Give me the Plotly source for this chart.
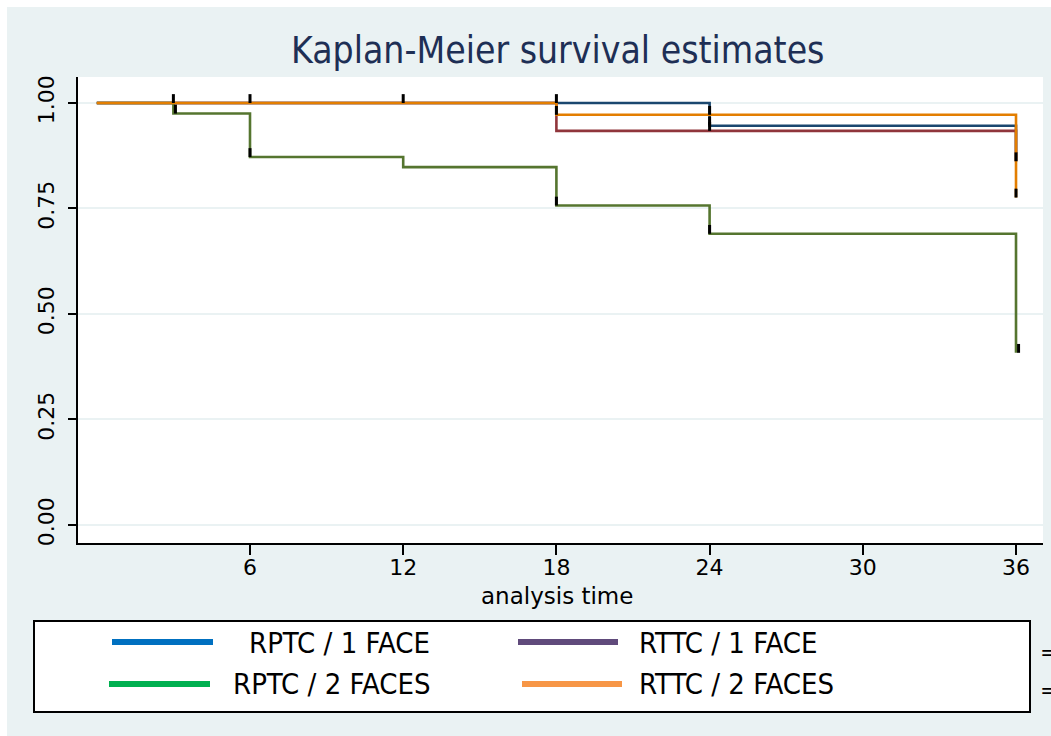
import plotly.graph_objects as go

# ---------------- data ----------------
series_names = ["RPTC / 1 FACE", "RTTC / 1 FACE", "RPTC / 2 FACES", "RTTC / 2 FACES"]
line_colors = ["#1a476f", "#90353b", "#55752f", "#e37e00"]
legend_colors = ["#0070C0", "#604A7B", "#00B050", "#F79646"]

t_rptc1 = [0, 24, 36]
s_rptc1 = [1.0, 0.946, 0.862]
t_rttc1 = [0, 18, 36]
s_rttc1 = [1.0, 0.934, 0.862]
t_rptc2 = [0, 3, 6, 12, 18, 24, 36]
s_rptc2 = [1.0, 0.975, 0.872, 0.848, 0.757, 0.690, 0.408]
t_rttc2 = [0, 18, 36]
s_rttc2 = [1.0, 0.972, 0.776]

# censoring ticks (time, survival level)
cens_t = [3, 3.08, 6, 6, 12, 18, 18, 18, 24, 24, 24, 24, 36, 36, 36.1]
cens_s = [1.0, 0.975, 1.0, 0.872, 1.0, 1.0, 0.972, 0.757, 0.934, 0.947, 0.972, 0.690, 0.862, 0.776, 0.408]

x_ticks = [6, 12, 18, 24, 30, 36]
y_ticks = [0, 0.25, 0.5, 0.75, 1.0]
y_ticktext = ["0.00", "0.25", "0.50", "0.75", "1.00"]

# ---------------- figure ----------------
W, H = 1051, 736
L, R, T, B = 78, 8, 77, 193
PW, PH = W - L - R, H - T - B


def px(x):
    return (x - L) / PW


def py(y):
    return (H - B - y) / PH


fig = go.Figure()
all_t = [t_rptc1, t_rttc1, t_rptc2, t_rttc2]
all_s = [s_rptc1, s_rttc1, s_rptc2, s_rttc2]
for name, col, tt, ss in zip(series_names, line_colors, all_t, all_s):
    fig.add_trace(go.Scatter(x=tt, y=ss, mode="lines", name=name,
                             line=dict(color=col, width=2.6, shape="hv"),
                             showlegend=False, hoverinfo="skip"))

tick_h = 0.021
cx, cy = [], []
for t, s in zip(cens_t, cens_s):
    cx += [t, t, None]
    cy += [s, s + tick_h, None]
fig.add_trace(go.Scatter(x=cx, y=cy, mode="lines", line=dict(color="black", width=3),
                         showlegend=False, hoverinfo="skip"))

bg = "#eaf2f3"
shapes = [
    dict(type="rect", xref="paper", yref="paper", x0=px(0), x1=px(W + 5), y0=py(7), y1=py(-5),
         fillcolor="white", line=dict(width=0), layer="below"),
    dict(type="rect", xref="paper", yref="paper", x0=px(-5), x1=px(7), y0=py(H + 5), y1=py(-5),
         fillcolor="white", line=dict(width=0), layer="below"),
    dict(type="rect", xref="paper", yref="paper", x0=px(34), x1=px(1030), y0=py(712), y1=py(621),
         fillcolor="white", line=dict(color="black", width=2)),
]
leg_lines = [(112, 213, 642), (518, 618, 642), (109, 210, 684), (522, 622, 684)]
leg_text = [(247, 643), (637, 643), (231, 684), (637, 684)]
for (x0, x1, yy), col in zip(leg_lines, legend_colors):
    shapes.append(dict(type="line", xref="paper", yref="paper", x0=px(x0), x1=px(x1),
                       y0=py(yy), y1=py(yy), line=dict(color=col, width=6)))

narrow = "DejaVu Sans Condensed, Liberation Sans Narrow, sans-serif"
annotations = [
    dict(text="Kaplan-Meier survival estimates", xref="paper", yref="paper",
         x=px(557), y=py(50), xanchor="center", yanchor="middle", showarrow=False,
         font=dict(family=narrow, size=37, color="#1e2f55")),
    dict(text="analysis time", xref="paper", yref="paper",
         x=px(557), y=py(596), xanchor="center", yanchor="middle", showarrow=False,
         font=dict(family="DejaVu Sans", size=23, color="black")),
]
for (xx, yy), name in zip(leg_text, series_names):
    annotations.append(dict(text=name, xref="paper", yref="paper", x=px(xx), y=py(yy),
                            xanchor="left", yanchor="middle", showarrow=False,
                            font=dict(family=narrow, size=29, color="black")))
for yy in (652, 690):
    annotations.append(dict(text="=", xref="paper", yref="paper", x=px(1038), y=py(yy),
                            xanchor="left", yanchor="middle", showarrow=False,
                            font=dict(family="DejaVu Sans", size=22, color="black")))

fig.update_layout(
    width=W, height=H,
    margin=dict(l=L, r=R, t=T, b=B, pad=0),
    paper_bgcolor=bg, plot_bgcolor="white",
    shapes=shapes, annotations=annotations,
    showlegend=False,
    xaxis=dict(range=[-0.736, 37.057], tickvals=x_ticks, ticks="outside", ticklen=10,
               tickwidth=2, tickcolor="black", showline=True, linecolor="black", linewidth=2,
               showgrid=False, zeroline=False, ticklabelstandoff=-6,
               tickfont=dict(family="DejaVu Sans", size=22, color="black")),
    yaxis=dict(range=[-0.0427, 1.0616], tickvals=y_ticks, ticktext=y_ticktext, tickangle=-90,
               ticks="outside", ticklen=8, tickwidth=2, tickcolor="black", showline=True,
               linecolor="black", linewidth=2, showgrid=True, gridcolor=bg, gridwidth=2,
               zeroline=False, ticklabelstandoff=5,
               tickfont=dict(family="DejaVu Sans", size=22, color="black")),
)

fig.write_html("out.html")
